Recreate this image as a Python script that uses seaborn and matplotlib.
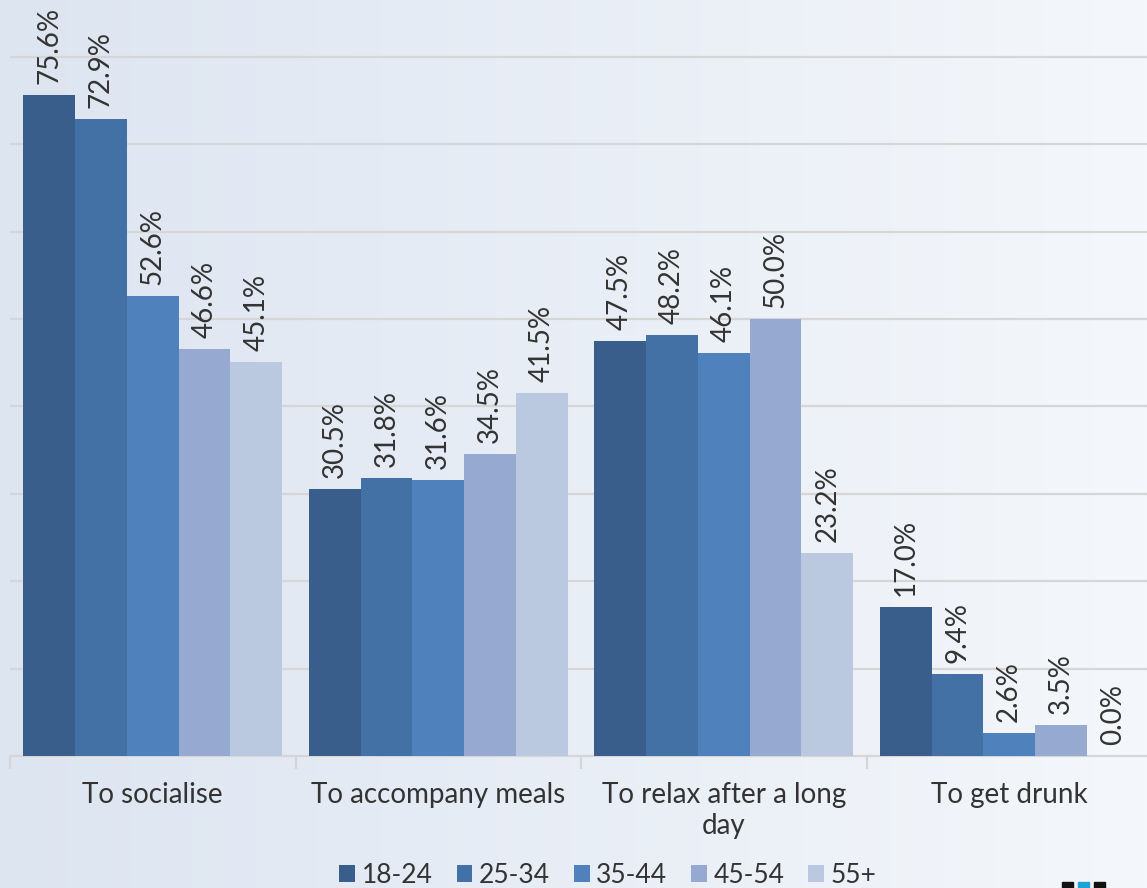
import numpy as np
import pandas as pd
import matplotlib
matplotlib.use("Agg")
import matplotlib.pyplot as plt
import seaborn as sns

# Reasons for drinking, share of respondents by age group (%)
reasons = ["To socialise", "To accompany meals", "To relax after a long\nday", "To get drunk"]
age_groups = ["18-24", "25-34", "35-44", "45-54", "55+"]
v_18_24 = [75.6, 30.5, 47.5, 17.0]
v_25_34 = [72.9, 31.8, 48.2, 9.4]
v_35_44 = [52.6, 31.6, 46.1, 2.6]
v_45_54 = [46.6, 34.5, 50.0, 3.5]
v_55_plus = [45.1, 41.5, 23.2, 0.0]

palette = ["#3a5e8c", "#4371a5", "#4f81bd", "#95a9d1", "#bac8e0"]

rows = []
for grp, vals in zip(age_groups, [v_18_24, v_25_34, v_35_44, v_45_54, v_55_plus]):
    for r, v in zip(reasons, vals):
        rows.append({"reason": r, "age": grp, "value": v})
df = pd.DataFrame(rows)

sns.set_theme(style="white")
plt.rcParams["font.family"] = ["Lato", "DejaVu Sans"]
text_color = "#333333"

fig = plt.figure(figsize=(11.47, 8.88), dpi=100)

# soft left-to-right background gradient
bg = fig.add_axes([0, 0, 1, 1], zorder=-10)
c0 = np.array([0xdd, 0xe5, 0xf1]) / 255
c1 = np.array([0xf4, 0xf7, 0xfb]) / 255
t = np.linspace(0, 1, 256)[None, :, None]
grad = c0 + (c1 - c0) * t
bg.imshow(grad, aspect="auto", extent=[0, 1, 0, 1])
bg.set_axis_off()

ax = fig.add_axes([10 / 1147, 1 - 756 / 888, 1142 / 1147, 756 / 888])
ax.set_facecolor("none")

sns.barplot(data=df, x="reason", y="value", hue="age", hue_order=age_groups,
            palette=palette, width=0.907, gap=0, saturation=1, ax=ax,
            edgecolor="none", linewidth=0, zorder=3)

for cont in ax.containers:
    ax.bar_label(cont, labels=[f"{v:.1f}%" for v in cont.datavalues],
                 rotation=90, padding=8, fontsize=20, color=text_color)

ax.set_ylim(0, 86.5)
ax.set_xlim(-0.5, 3.5)
ax.set_yticks(np.arange(10, 81, 10))
ax.yaxis.grid(True, color="#d6d6d6", linewidth=1.6, zorder=0)
ax.tick_params(axis="y", left=False, labelleft=False)
ax.set_xlabel("")
ax.set_ylabel("")
for s in ["top", "right", "left"]:
    ax.spines[s].set_visible(False)
ax.spines["bottom"].set_color("#d6d6d6")
ax.spines["bottom"].set_linewidth(1.6)

ax.tick_params(axis="x", which="major", length=0, pad=19, labelsize=20, labelcolor=text_color)
ax.set_xticks(np.arange(-0.5, 4.0, 1.0), minor=True)
ax.tick_params(axis="x", which="minor", length=9, width=1.6, color="#d6d6d6", bottom=True)

leg = ax.legend(loc="center", bbox_to_anchor=(608 / 1147, 13 / 888),
                bbox_transform=fig.transFigure, ncol=5, frameon=False,
                fontsize=19, handlelength=0.6, handleheight=0.6,
                handletextpad=0.25, columnspacing=0.9, labelcolor=text_color)

# small logo marks at the bottom edge
for x0, col in [(1062, "#111111"), (1078, "#1aa3d6"), (1094, "#111111")]:
    fig.patches.append(plt.Rectangle((x0 / 1147, 0), 11 / 1147, 6 / 888,
                                     transform=fig.transFigure, color=col, zorder=5))

fig.savefig("out.png", dpi=100)
